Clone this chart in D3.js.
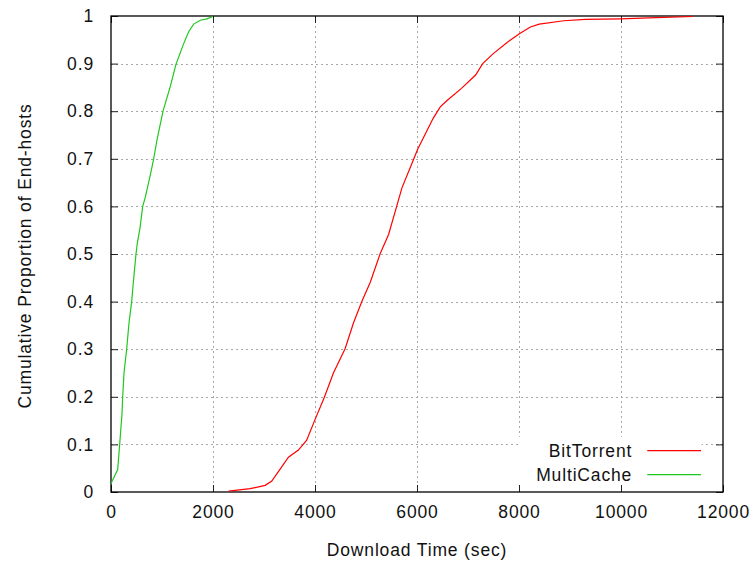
<!DOCTYPE html>
<head>
  <meta charset="utf-8">
  <title>Download time CDF</title>
  <script src="https://d3js.org/d3.v7.min.js"></script>
  <style>
    body { margin: 0; background: #fff; }
    text { font-family: "Liberation Sans", Arial, sans-serif; fill: #111; letter-spacing: 0.85px; }
  </style>
</head>
<body>
  <div id="chart"></div>
  <script>
    // Werte
    var bitTorrentTime = [2306, 2730, 3023, 3153, 3316, 3479, 3674, 3837, 4000, 4180, 4361, 4590, 4754, 4918, 5082, 5279, 5443, 5607, 5705, 5934, 6013, 6317, 6456, 6595, 6872, 7149, 7288, 7495, 7773, 8015, 8223, 8396, 8881, 9297, 9990, 10683, 11411];
    var bitTorrentCdf = [0.002, 0.007, 0.014, 0.023, 0.048, 0.073, 0.088, 0.109, 0.152, 0.198, 0.25, 0.301, 0.355, 0.40, 0.44, 0.501, 0.541, 0.602, 0.639, 0.699, 0.72, 0.785, 0.809, 0.823, 0.848, 0.876, 0.90, 0.921, 0.945, 0.963, 0.977, 0.983, 0.990, 0.993, 0.994, 0.9965, 0.999];

    var multiCacheTime = [0, 131, 170, 216, 229, 255, 307, 353, 405, 438, 490, 516, 569, 621, 667, 765, 837, 902, 1020, 1163, 1275, 1425, 1523, 1621, 1752, 1882, 2000];
    var multiCacheCdf = [0.018, 0.047, 0.10, 0.165, 0.2, 0.25, 0.30, 0.355, 0.40, 0.44, 0.50, 0.523, 0.555, 0.60, 0.617, 0.663, 0.70, 0.74, 0.80, 0.852, 0.899, 0.942, 0.967, 0.983, 0.991, 0.994, 0.999];

    var xTicks = [0, 2000, 4000, 6000, 8000, 10000, 12000];
    var xTickLabels = ['0', '2000', '4000', '6000', '8000', '10000', '12000'];
    var yTicks = [0, 0.1, 0.2, 0.3, 0.4, 0.5, 0.6, 0.7, 0.8, 0.9, 1];
    var yTickLabels = ['0', '0.1', '0.2', '0.3', '0.4', '0.5', '0.6', '0.7', '0.8', '0.9', '1'];

    var seriesNames = ['BitTorrent', 'MultiCache'];
    var seriesColors = ['#ff0000', '#1ec81e'];

    var series = [
      bitTorrentTime.map(function (t, i) { return { t: t, p: bitTorrentCdf[i] }; }),
      multiCacheTime.map(function (t, i) { return { t: t, p: multiCacheCdf[i] }; })
    ];

    var margin = { top: 16, right: 31, bottom: 70, left: 111 };
    var width = 612;
    var height = 476;

    var xScale = d3.scaleLinear().domain([0, 12000]).range([0, width]);
    var yScale = d3.scaleLinear().domain([0, 1]).range([height, 0]);

    var svg = d3.select('#chart')
      .append('svg')
        .attr('width', 754)
        .attr('height', 562);

    var group = svg.append('g')
      .attr('transform', 'translate(' + margin.left + ',' + margin.top + ')');

    // Gitterlinien (gepunktet)
    var grid = group.append('g')
      .attr('stroke', '#a8a8a8')
      .attr('stroke-width', 1)
      .attr('stroke-dasharray', '2,3');
    grid.selectAll('.gx')
      .data(xTicks.slice(1, -1))
      .enter().append('line')
        .attr('x1', function (d) { return Math.round(xScale(d)) + 0.5; })
        .attr('x2', function (d) { return Math.round(xScale(d)) + 0.5; })
        .attr('y1', 0)
        .attr('y2', height);
    grid.selectAll('.gy')
      .data(yTicks.slice(1, -1))
      .enter().append('line')
        .attr('x1', 0)
        .attr('x2', width)
        .attr('y1', function (d) { return Math.round(yScale(d)) + 0.5; })
        .attr('y2', function (d) { return Math.round(yScale(d)) + 0.5; });

    // Legendenhintergrund verdeckt das Gitter
    group.append('rect')
      .attr('x', xScale(8000) - 1)
      .attr('y', yScale(0.116))
      .attr('width', xScale(11600) - xScale(8000))
      .attr('height', yScale(0) - yScale(0.116))
      .attr('fill', '#fff');

    // Achsen, Ticks nach innen, auch oben und rechts
    var xAxis = d3.axisBottom(xScale).tickValues(xTicks).tickSize(-7).tickPadding(14)
      .tickFormat(function (d, i) { return xTickLabels[i]; });
    var yAxis = d3.axisLeft(yScale).tickValues(yTicks).tickSize(-7).tickPadding(17)
      .tickFormat(function (d, i) { return yTickLabels[i]; });

    var gx = group.append('g')
      .attr('transform', 'translate(0,' + height + ')')
      .call(xAxis);
    var gy = group.append('g').call(yAxis);
    group.append('g').call(d3.axisTop(xScale).tickValues(xTicks).tickSize(-7).tickFormat(''));
    group.append('g').attr('transform', 'translate(' + width + ',0)')
      .call(d3.axisRight(yScale).tickValues(yTicks).tickSize(-7).tickFormat(''));

    group.selectAll('.domain').remove();
    group.selectAll('.tick line').attr('stroke', '#222');
    gx.selectAll('text').style('font-size', '17.5px').attr('fill', '#111');
    gy.selectAll('text').style('font-size', '17.5px').attr('fill', '#111');

    // Rahmen
    group.append('rect')
      .attr('width', width)
      .attr('height', height)
      .attr('fill', 'none')
      .attr('stroke', '#000')
      .attr('stroke-width', 1.3);

    // Kurven
    var line = d3.line()
      .x(function (d) { return xScale(d.t); })
      .y(function (d) { return yScale(d.p); });

    group.selectAll('.curve')
      .data(series)
      .enter().append('path')
        .attr('fill', 'none')
        .attr('stroke', function (d, i) { return seriesColors[i]; })
        .attr('stroke-width', 1.2)
        .attr('d', line);

    // Legende
    var legend = group.selectAll('.legend')
      .data(seriesNames)
      .enter().append('g')
        .attr('transform', function (d, i) { return 'translate(0,' + (yScale(0.087) + i * 24) + ')'; });
    legend.append('text')
      .attr('x', xScale(10220))
      .attr('y', 6)
      .style('font-size', '17.5px')
      .style('text-anchor', 'end')
      .text(function (d) { return d; });
    legend.append('line')
      .attr('x1', xScale(10515))
      .attr('x2', xScale(11570))
      .attr('stroke', function (d, i) { return seriesColors[i]; })
      .attr('stroke-width', 1.2);

    // Achsenbeschriftungen
    svg.append('text')
      .attr('x', margin.left + width / 2)
      .attr('y', 556)
      .style('font-size', '17.5px')
      .style('text-anchor', 'middle')
      .text('Download Time (sec)');

    svg.append('text')
      .attr('transform', 'translate(31,' + (margin.top + height / 2 + 2) + ') rotate(-90)')
      .style('font-size', '17.5px')
      .style('text-anchor', 'middle')
      .text('Cumulative Proportion of End-hosts');
  </script>
</body>
